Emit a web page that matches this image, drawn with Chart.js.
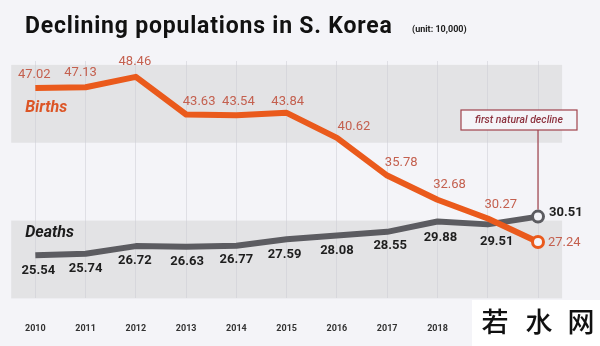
<!DOCTYPE html>
<html>
<head>
<meta charset="utf-8">
<script src="https://cdn.jsdelivr.net/npm/chart.js@4.4.1/dist/chart.umd.min.js"></script>
<style>
  html, body { margin: 0; padding: 0; background: #f4f4f8; }
  #wrap { width: 600px; height: 346px; }
</style>
</head>
<body>
<div id="wrap"><canvas id="myChart" width="600" height="346"></canvas></div>
<script>
// values in units of 10,000 people
const years = ['2010','2011','2012','2013','2014','2015','2016','2017','2018','2019','2020'];
const births = [47.02, 47.13, 48.46, 43.63, 43.54, 43.84, 40.62, 35.78, 32.68, 30.27, 27.24];
const deaths = [25.54, 25.74, 26.72, 26.63, 26.77, 27.59, 28.08, 28.55, 29.88, 29.51, 30.51];

const BG = '#f4f4f8';
const BAND = '#e3e3e5';
const ORANGE = '#ea5a1c';
const GREY = '#5c5c61';

// label nudges (px), so the numbers sit where the original places them
const birthLabelDx = [-1, -5, -1, 13, 2, 1, 17, 14, 12, 13, 10];
const birthLabelDy = [-13, -14, -15, -13, -13, -11, -11, -13, -15, -14, 1];
const deathLabelDx = [3, 0, -1, 1, 0, -2, 0, 3, 3, 9, 11];
const deathLabelDy = [15, 15, 15, 15, 14, 15, 15, 14, 16, 17, -4];

const last = years.length - 1;

const decorPlugin = {
  id: 'decor',
  beforeDraw(chart) {
    const c = chart.ctx, x = chart.scales.x, y = chart.scales.y;
    c.save();
    c.fillStyle = BG;
    c.fillRect(0, 0, chart.width, chart.height);
    // grey bands 40-50 and 20-30
    const l = x.getPixelForValue(-0.48), r = x.getPixelForValue(last + 0.48);
    c.fillStyle = BAND;
    c.fillRect(l, y.getPixelForValue(50), r - l, y.getPixelForValue(40) - y.getPixelForValue(50));
    c.fillRect(l, y.getPixelForValue(30), r - l, y.getPixelForValue(20) - y.getPixelForValue(30));

    // title
    c.fillStyle = '#111';
    c.textBaseline = 'middle';
    c.textAlign = 'left';
    c.font = 'bold 23px Roboto';
    c.letterSpacing = '0.8px';
    c.fillText('Declining populations in S. Korea', 25, 27);
    c.letterSpacing = '0px';
    c.font = 'bold 9px Roboto';
    c.fillStyle = '#222';
    c.fillText('(unit: 10,000)', 412, 30);

    // series names
    c.font = 'italic bold 16px Roboto';
    c.fillStyle = '#dc5526';
    c.fillText('Births', l + 14, y.getPixelForValue(44.4));
    c.fillStyle = '#1c1c1c';
    c.fillText('Deaths', l + 14, y.getPixelForValue(28.4));
    c.restore();
  },
  afterDatasetsDraw(chart) {
    const c = chart.ctx;
    c.save();
    c.textBaseline = 'middle';
    const bm = chart.getDatasetMeta(0).data;
    const dm = chart.getDatasetMeta(1).data;
    c.font = '13px Roboto';
    c.fillStyle = '#c4604f';
    bm.forEach((p, i) => {
      c.textAlign = i === last ? 'left' : 'center';
      c.fillText(births[i].toFixed(2), p.x + birthLabelDx[i], p.y + birthLabelDy[i]);
    });
    c.font = 'bold 13px Roboto';
    c.fillStyle = '#1e1e1e';
    dm.forEach((p, i) => {
      c.textAlign = i === last ? 'left' : 'center';
      c.fillText(deaths[i].toFixed(2), p.x + deathLabelDx[i], p.y + deathLabelDy[i]);
    });

    // annotation: first natural decline
    const p = dm[last];
    const bx = p.x - 77, by = 110, bw = 116, bh = 20;
    c.strokeStyle = '#a0424c';
    c.lineWidth = 1.2;
    c.fillStyle = BG;
    c.fillRect(bx, by, bw, bh);
    c.strokeRect(bx, by, bw, bh);
    c.beginPath();
    c.moveTo(p.x, by + bh);
    c.lineTo(p.x, p.y - 7);
    c.stroke();
    c.fillStyle = '#8e3440';
    c.font = 'italic 500 10.5px Roboto';
    c.textAlign = 'center';
    c.fillText('first natural decline', bx + bw / 2, by + bh / 2 + 0.5);
    c.restore();
  },
  afterDraw(chart) {
    // watermark of the source picture
    const c = chart.ctx;
    c.save();
    c.fillStyle = '#ffffff';
    c.fillRect(472, 300, 128, 46);
    c.fillStyle = '#111';
    c.font = '500 27px "Noto Sans CJK SC"';
    c.textAlign = 'center';
    c.textBaseline = 'middle';
    c.fillText('若', 495, 322);
    c.fillText('水', 539, 322);
    c.fillText('网', 581, 322);
    c.restore();
  }
};

new Chart('myChart', {
  type: 'line',
  data: {
    labels: years,
    datasets: [{
      label: 'Births',
      data: births,
      borderColor: ORANGE,
      borderWidth: 6,
      tension: 0,
      borderJoinStyle: 'round',
      pointRadius: ctx => ctx.dataIndex === last ? 5.5 : 0,
      pointBackgroundColor: BG,
      pointBorderColor: ORANGE,
      pointBorderWidth: 3
    }, {
      label: 'Deaths',
      data: deaths,
      borderColor: GREY,
      borderWidth: 6,
      tension: 0,
      borderJoinStyle: 'round',
      pointRadius: ctx => ctx.dataIndex === last ? 5.5 : 0,
      pointBackgroundColor: BG,
      pointBorderColor: GREY,
      pointBorderWidth: 3
    }]
  },
  options: {
    responsive: false,
    animation: false,
    events: [],
    layout: { padding: { left: 34, right: 62, top: 61, bottom: 12 } },
    plugins: { legend: { display: false }, tooltip: { enabled: false } },
    scales: {
      x: {
        offset: false,
        border: { display: false },
        grid: { color: 'rgba(205,205,214,0.55)', drawTicks: false },
        ticks: { color: '#333', font: { family: 'Roboto', size: 9, weight: 'bold' }, padding: 25, maxRotation: 0 },
        afterFit(scale) { scale.height = 35.6; }
      },
      y: { display: false, min: 20, max: 50.5 }
    }
  },
  plugins: [decorPlugin]
});
</script>
</body>
</html>
